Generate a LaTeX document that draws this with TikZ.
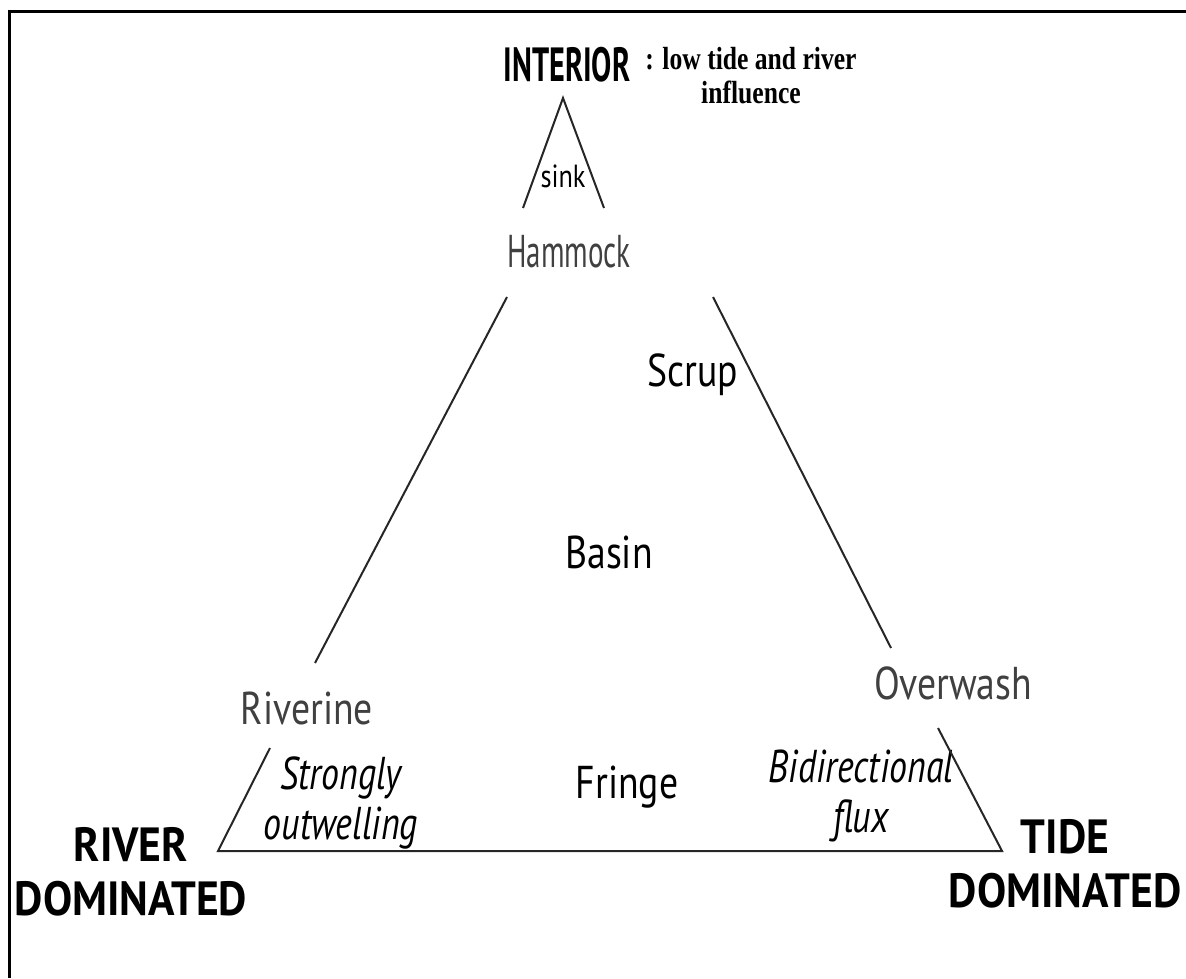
\documentclass[tikz,border=0pt]{standalone}
\usepackage{fontspec}
\setmainfont{PT Sans}[FakeStretch=0.82]
\newfontfamily\narrowfont{PT Sans}[FakeStretch=0.63]
\newfontfamily\cornerfont{PT Sans}[FakeStretch=0.91]
\newfontfamily\flowfont{PT Sans}[FakeStretch=0.78]
\newfontfamily\notefont{Liberation Serif}[FakeStretch=0.8]
\usetikzlibrary{positioning}

\begin{document}
\begin{tikzpicture}[
    x=0.5pt, y=-0.5pt,
    zone/.style={font=\fontsize{23}{26}\selectfont},
    lightzone/.style={zone, text=black!75},
    corner/.style={font=\cornerfont\fontsize{24}{27}\selectfont\bfseries, align=center},
    flow/.style={font=\flowfont\fontsize{23}{25}\selectfont\itshape, align=center},
    edge/.style={line width=1pt, black!85}
]

\useasboundingbox (0,0) rectangle (1186,978);
\draw[line width=1.5pt] (1186,12) -- (9,12) -- (9,978);

% Corners of the triangle
\node[corner, font=\narrowfont\fontsize{24}{27}\selectfont\bfseries] (interior) at (567,65) {INTERIOR};
\node[align=center, inner sep=1pt, font=\notefont\bfseries\fontsize{16}{17}\selectfont] (note) at (751,76) {: low tide and river\\influence};
\node[corner] (river) at (131,872) {RIVER\\DOMINATED};
\node[corner] (tide) at (1065,864) {TIDE\\DOMINATED};

% Zones
\node[zone, font=\fontsize{16}{18}\selectfont] (sink) at (563,176) {sink};
\node[lightzone, font=\narrowfont\fontsize{23}{26}\selectfont] (hammock) at (569,252) {Hammock};
\node[zone] (scrup) at (693,375) {Scrup};
\node[zone] (basin) at (609,552) {Basin};
\node[lightzone] (riverine) at (307,708) {Riverine};
\node[lightzone] (overwash) at (953,683) {Overwash};
\node[zone] (fringe) at (627,787) {Fringe};

% Fluxes
\node[flow] (outwelling) at (341,803) {Strongly\\outwelling};
\node[flow] (bidir) at (861,796) {Bidirectional\\flux};

% Line ends
\coordinate (apex) at (563,98);
\coordinate (sinkL) at (523,208);
\coordinate (sinkR) at (604,208);
\coordinate (topL) at (507,297);
\coordinate (botL) at (315,663);
\coordinate (topR) at (713,297);
\coordinate (botR) at (891,648);
\coordinate (lowL) at (270,748);
\coordinate (baseL) at (218,851);
\coordinate (baseR) at (1002,851);
\coordinate (lowR) at (938,728);

% Sides
\draw[edge] (sinkL) -- (apex) -- (sinkR);
\draw[edge] (topL) -- (botL);
\draw[edge] (topR) -- (botR);
\draw[edge] (lowL) -- (baseL) -- (baseR) -- (lowR);

\end{tikzpicture}
\end{document}
